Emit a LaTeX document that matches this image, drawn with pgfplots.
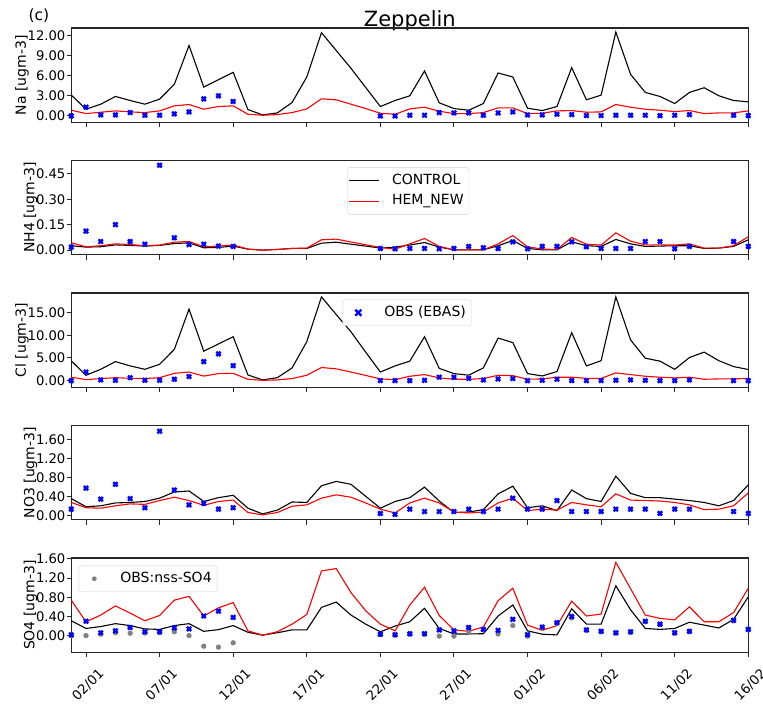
\documentclass[border=0pt]{standalone}
\usepackage{pgfplots}
\pgfplotsset{compat=1.18}
\usepackage{pgfplotstable}
\usepackage{fontspec}
\setmainfont{DejaVu Sans}
\definecolor{nssgray}{RGB}{128,128,128}

% day index: 0 = 01/01
\pgfplotstableread{
d na_c na_h nh_c nh_h cl_c cl_h no_c no_h so_c so_h
0 3.1 0.85 0.026 0.043 4.36 0.75 0.36 0.28 0.31 0.74
1 1.0 0.35 0.018 0.020 1.18 0.22 0.19 0.17 0.15 0.285
2 1.75 0.55 0.020 0.026 2.5 0.45 0.21 0.16 0.19 0.43
3 2.9 0.75 0.031 0.037 4.2 0.65 0.27 0.21 0.25 0.62
4 2.3 0.6 0.028 0.033 3.25 0.5 0.28 0.25 0.21 0.47
5 1.75 0.5 0.024 0.026 2.5 0.45 0.30 0.24 0.14 0.31
6 2.5 0.75 0.028 0.030 3.6 0.65 0.37 0.32 0.13 0.42
7 4.7 1.5 0.039 0.047 6.9 1.6 0.50 0.39 0.21 0.74
8 10.5 1.7 0.043 0.051 15.8 1.9 0.52 0.32 0.25 0.82
9 4.3 1.0 0.014 0.020 6.5 1.0 0.30 0.22 0.09 0.41
10 5.4 1.4 0.016 0.024 8.1 1.55 0.38 0.30 0.125 0.58
11 6.5 1.5 0.024 0.031 9.7 1.6 0.43 0.33 0.21 0.69
12 0.95 0.25 0.006 0.006 1.25 0.3 0.16 0.07 0.07 0.10
13 0.15 0.1 0.0 0.0 0.15 0.07 0.04 0.02 0.01 0.01
14 0.45 0.2 0.004 0.004 0.65 0.15 0.12 0.07 0.06 0.08
15 2.0 0.5 0.010 0.010 2.8 0.45 0.29 0.20 0.12 0.24
16 5.8 1.05 0.010 0.012 8.6 1.18 0.28 0.23 0.12 0.44
17 12.4 2.55 0.041 0.061 18.5 2.9 0.63 0.37 0.59 1.35
18 9.75 2.4 0.047 0.065 14.6 2.6 0.72 0.44 0.70 1.40
19 7.1 1.75 0.035 0.048 10.8 1.9 0.66 0.39 0.43 0.90
20 4.25 1.1 0.024 0.032 6.3 1.15 0.41 0.27 0.24 0.52
21 1.4 0.4 0.012 0.016 1.9 0.37 0.16 0.14 0.08 0.24
22 2.3 0.25 0.018 0.006 3.25 0.22 0.30 0.06 0.20 0.10
23 3.0 1.05 0.030 0.037 4.3 0.96 0.38 0.27 0.29 0.64
24 6.7 1.3 0.045 0.069 9.7 1.33 0.60 0.37 0.57 1.01
25 1.95 0.7 0.018 0.022 2.7 0.6 0.31 0.27 0.15 0.42
26 1.1 0.35 0.002 0.002 1.55 0.3 0.07 0.08 0.035 0.12
27 0.85 0.35 0.002 0.002 1.2 0.3 0.08 0.06 0.035 0.09
28 1.85 0.5 0.002 0.002 2.8 0.45 0.13 0.08 0.04 0.18
29 6.4 1.2 0.026 0.037 9.4 1.18 0.46 0.27 0.41 0.73
30 5.8 1.2 0.057 0.086 8.4 1.1 0.62 0.37 0.64 0.99
31 1.15 0.35 0.010 0.020 1.55 0.3 0.17 0.11 0.10 0.22
32 0.8 0.4 0.002 0.006 1.03 0.37 0.21 0.14 0.03 0.11
33 1.4 0.75 0.002 0.004 2.0 0.75 0.11 0.12 0.015 0.21
34 7.2 0.8 0.049 0.075 10.6 0.75 0.54 0.28 0.56 0.72
35 2.4 0.55 0.026 0.035 3.25 0.5 0.36 0.23 0.24 0.41
36 3.1 0.6 0.022 0.030 4.4 0.5 0.30 0.19 0.24 0.45
37 12.5 1.7 0.063 0.102 18.5 1.7 0.83 0.46 1.04 1.53
38 6.2 1.3 0.037 0.053 9.0 1.33 0.47 0.33 0.54 0.98
39 3.5 1.0 0.022 0.031 4.95 0.96 0.38 0.32 0.15 0.43
40 2.9 0.85 0.024 0.031 4.3 0.75 0.38 0.31 0.13 0.36
41 1.85 0.65 0.026 0.030 2.5 0.6 0.35 0.28 0.15 0.33
42 3.5 0.8 0.026 0.037 5.1 0.75 0.32 0.23 0.28 0.60
43 4.2 0.35 0.010 0.012 6.3 0.3 0.28 0.13 0.22 0.29
44 3.0 0.45 0.012 0.012 4.4 0.37 0.21 0.14 0.16 0.29
45 2.3 0.45 0.022 0.026 3.1 0.37 0.32 0.21 0.34 0.48
46 2.1 0.75 0.061 0.079 2.45 0.5 0.65 0.48 0.81 0.99
}\model

\pgfplotstableread{
d na nh cl no so nss
0 0.0 0.018 0.0 0.14 0.015 0.0
1 1.3 0.112 1.9 0.58 0.30 0.0
2 0.15 0.051 0.15 0.35 0.06 0.03
3 0.15 0.151 0.07 0.66 0.10 0.06
4 0.5 0.051 0.65 0.36 0.17 0.05
5 0.1 0.035 0.07 0.17 0.08 0.055
6 0.1 0.501 0.07 1.77 0.08 0.06
7 0.3 0.073 0.3 0.54 0.16 0.08
8 0.6 0.033 0.9 0.23 0.14 0.0
9 2.55 0.035 4.2 0.26 0.41 -0.22
10 3.0 0.024 5.9 0.14 0.51 -0.24
11 2.15 0.022 3.3 0.17 0.38 -0.15
21 0.0 0.010 0.0 0.05 0.03 0.02
22 0.0 0.008 0.0 0.03 0.02 0.01
23 0.1 0.010 0.0 0.14 0.04 0.03
24 0.1 0.010 0.07 0.09 0.04 0.03
25 0.5 0.008 0.75 0.09 0.12 -0.01
26 0.45 0.010 0.75 0.09 0.10 -0.01
27 0.45 0.022 0.5 0.14 0.17 0.08
28 0.1 0.014 0.15 0.09 0.13 0.12
29 0.45 0.010 0.37 0.14 0.11 0.035
30 0.6 0.049 0.45 0.37 0.34 0.21
31 0.15 0.008 0.0 0.14 0.02 -0.01
32 0.15 0.022 0.07 0.14 0.18 0.16
33 0.25 0.022 0.3 0.32 0.27 0.26
34 0.2 0.049 0.0 0.09 0.40 0.37
35 0.05 0.020 0.0 0.09 0.12 0.11
36 0.05 0.010 0.0 0.09 0.09 0.08
37 0.1 0.010 0.07 0.14 0.06 0.05
38 0.1 0.010 0.15 0.14 0.08 0.07
39 0.1 0.051 0.07 0.14 0.30 0.29
40 0.05 0.051 0.0 0.05 0.24 0.23
41 0.1 0.008 0.0 0.14 0.06 0.05
42 0.2 0.022 0.15 0.14 0.09 0.08
45 0.1 0.051 0.0 0.09 0.32 0.31
46 0.05 0.022 0.0 0.05 0.13 0.12
}\obs

\pgfplotsset{
  panel/.style={
    width=677pt, height=94.3pt, scale only axis,
    xmin=0, xmax=46, xtick={1,6,...,46}, xticklabels={},
    tick align=outside, major tick length=4.7pt,
    xtick pos=bottom, ytick pos=left,
    axis line style={line width=1.3pt, black!85},
    every tick/.style={line width=1pt, black!85},
    tick label style={font=\fontsize{13.2}{13.2}\selectfont},
    yticklabel style={inner xsep=1pt, /pgf/number format/.cd, fixed, fixed zerofill, precision=2},
    /pgf/number format/assume math mode=true,
    scaled y ticks=false,
    ylabel style={font=\fontsize{14}{14}\selectfont, inner sep=1pt},
    ylabel shift=-3.5pt,
    legend cell align=left,
    legend style={draw=black!18, rounded corners=2pt, fill=white,
      font=\fontsize{14}{14}\selectfont, inner xsep=1.4pt, inner ysep=2.3pt,
      nodes={inner xsep=4pt, inner ysep=4pt, text height=10pt, text depth=3pt},
      row sep=0pt, column sep=8pt, anchor=north west},
  },
  ctl/.style={black, line width=1.1pt, no marks},
  hem/.style={red, line width=1.1pt, no marks},
  ob/.style={only marks, mark=x, mark size=3pt, blue, mark options={line width=2.4pt, solid}},
  nssst/.style={only marks, mark=*, mark size=2.4pt, color=nssgray},
  ctlleg/.style={legend image code/.code={\draw[black, line width=1.1pt, sharp corners] (0pt,0pt) -- (30pt,0pt);}},
  hemleg/.style={legend image code/.code={\draw[red, line width=1.1pt, sharp corners] (0pt,0pt) -- (30pt,0pt);}},
  obleg/.style={legend image code/.code={\path[draw=none, fill=none] (0pt,-3pt) rectangle (28pt,3pt);
     \draw[blue, line width=2.4pt, sharp corners, line cap=butt] (11pt,-3pt) -- (17pt,3pt) (11pt,3pt) -- (17pt,-3pt);}},
  nssleg/.style={legend image code/.code={\path[draw=none, fill=none] (0pt,-3pt) rectangle (28pt,3pt);
     \fill[nssgray, draw=none] (14pt,0pt) circle (2.4pt);}},
}

\begin{document}
\begin{tikzpicture}
\path[use as bounding box] (0pt,0pt) rectangle (763pt,-704pt);
\node[anchor=base west, font=\fontsize{15.5}{15.5}\selectfont] at (25pt,-20.7pt) {(c)};
\node[anchor=base, font=\fontsize{21}{21}\selectfont] at (409.8pt,-26.7pt) {Zeppelin};

% Na
\begin{axis}[panel, at={(71.3pt,-28pt)}, anchor=north west,
  ymin=-0.95, ymax=13.1, ytick={0,3,6,9,12}, ylabel={Na [ugm-3]}]
\addplot[ctl] table[x=d,y=na_c]{\model};
\addplot[hem] table[x=d,y=na_h]{\model};
\addplot[ob] table[x=d,y=na]{\obs};
\end{axis}

% NH4
\begin{axis}[panel, at={(71.3pt,-160.5pt)}, anchor=north west,
  ymin=-0.0275, ymax=0.529, ytick={0,0.15,0.30,0.45}, ylabel={NH4 [ugm-3]},
  legend style={at={(0.4077,0.9258)}}]
\addplot[ctl, ctlleg] table[x=d,y=nh_c]{\model};
\addlegendentry{CONTROL}
\addplot[hem, hemleg] table[x=d,y=nh_h]{\model};
\addlegendentry{HEM\_NEW}
\addplot[ob, forget plot] table[x=d,y=nh]{\obs};
\end{axis}

% Cl
\begin{axis}[panel, at={(71.3pt,-293pt)}, anchor=north west,
  ymin=-1.48, ymax=19.36, ytick={0,5,10,15}, ylabel={Cl [ugm-3]},
  legend style={at={(0.4009,0.9287)}}]
\addplot[ctl, forget plot] table[x=d,y=cl_c]{\model};
\addplot[hem, forget plot] table[x=d,y=cl_h]{\model};
\addplot[ob, obleg] table[x=d,y=cl]{\obs};
\addlegendentry{OBS (EBAS)}
\end{axis}

% NO3
\begin{axis}[panel, at={(71.3pt,-425.5pt)}, anchor=north west,
  ymin=-0.083, ymax=1.89, ytick={0,0.4,0.8,1.2,1.6}, ylabel={NO3 [ugm-3]}]
\addplot[ctl] table[x=d,y=no_c]{\model};
\addplot[hem] table[x=d,y=no_h]{\model};
\addplot[ob] table[x=d,y=no]{\obs};
\end{axis}

% SO4
\begin{axis}[panel, at={(71.3pt,-558pt)}, anchor=north west,
  ymin=-0.348, ymax=1.62, ytick={0,0.4,0.8,1.2,1.6}, ylabel={SO4 [ugm-3]},
  xticklabels={02/01,07/01,12/01,17/01,22/01,27/01,01/02,06/02,11/02,16/02},
  xticklabel style={xshift=11.5pt, yshift=-9pt, rotate=45, anchor=north east, inner sep=1pt},
  legend style={at={(0.011,0.918)}}]
\addplot[ctl, forget plot] table[x=d,y=so_c]{\model};
\addplot[hem, forget plot] table[x=d,y=so_h]{\model};
\addplot[nssst, nssleg] table[x=d,y=nss]{\obs};
\addlegendentry{OBS:nss-SO4}
\addplot[ob, forget plot] table[x=d,y=so]{\obs};
\end{axis}
\end{tikzpicture}
\end{document}
